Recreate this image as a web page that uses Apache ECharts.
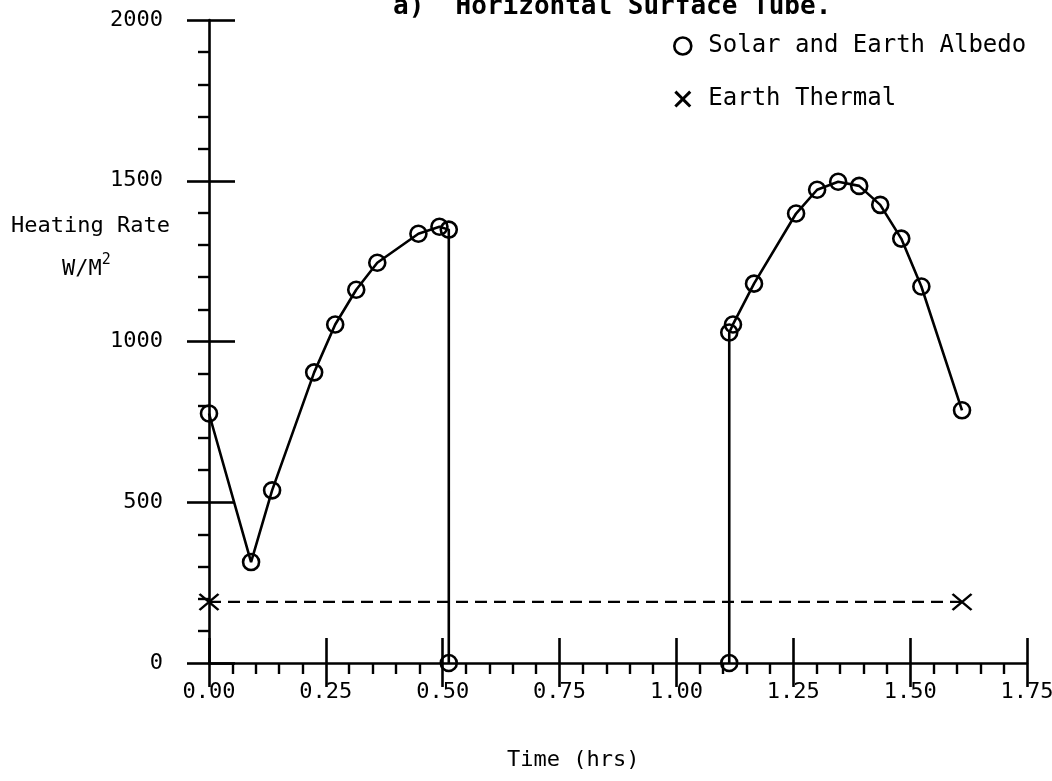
<!DOCTYPE html>
<html>
<head>
<meta charset="utf-8">
<script src="https://cdn.jsdelivr.net/npm/echarts@6/dist/echarts.min.js"></script>
<style>
html,body{margin:0;padding:0;background:#fff;}
#chart{width:1052px;height:781px;}
</style>
</head>
<body>
<div id="chart"></div>
<script>
// ---- data ----
const titleText = "a)  Horizontal Surface Tube.";
const solarName = "Solar and Earth Albedo";
const thermalName = "Earth Thermal";
// first sunlit arc (time in hrs, heating rate W/M^2)
const solarTime1 = [0.000, 0.090, 0.135, 0.225, 0.270, 0.315, 0.360, 0.448, 0.493, 0.513, 0.513];
const solarRate1 = [776, 314, 537, 904, 1053, 1161, 1245, 1335, 1357, 1348, 0];
// second sunlit arc
const solarTime2 = [1.113, 1.113, 1.121, 1.166, 1.256, 1.301, 1.346, 1.391, 1.436, 1.481, 1.524, 1.611];
const solarRate2 = [0, 1028, 1053, 1180, 1398, 1472, 1497, 1484, 1425, 1320, 1171, 786];
// earth thermal
const thermalTime = [0.000, 1.611];
const thermalRate = [190, 190];
// axes
const xMin = 0, xMax = 1.75, xStep = 0.25;
const yMin = 0, yMax = 2000, yStep = 500;

const pairs = (xs, ys) => xs.map((x, i) => [x, ys[i]]);
const FONT = "'DejaVu Sans Mono', 'Liberation Mono', monospace";
const BLACK = '#000';

const chart = echarts.init(document.getElementById('chart'), null, {renderer: 'canvas'});

const solarStyle = {
  type: 'line',
  name: solarName,
  symbol: 'circle',
  symbolSize: 16,
  showSymbol: true,
  lineStyle: {color: BLACK, width: 2.6},
  itemStyle: {color: 'rgba(0,0,0,0)', borderColor: BLACK, borderWidth: 2.6},
  emphasis: {disabled: true},
  z: 3
};

const option = {
  animation: false,
  backgroundColor: '#fff',
  grid: {left: 209, right: 25, top: 20, bottom: 118, containLabel: false, outerBoundsMode: 'none'},
  graphic: [
    {type: 'text', left: 393, top: -6, style: {text: titleText, font: "bold 26px " + FONT, fill: BLACK}},
    {type: 'text', left: 11, top: 215, style: {text: 'Heating Rate', font: "22px " + FONT, fill: BLACK}},
    {type: 'text', left: 62, top: 253, style: {
      text: '{a|W/M}{s|2}', fill: BLACK,
      rich: {a: {font: "22px " + FONT, fill: BLACK, verticalAlign: 'bottom'}, s: {font: "15px " + FONT, fill: BLACK, verticalAlign: 'top', padding: [0,0,12,0]}}
    }},
    {type: 'text', left: 507, top: 749, style: {text: 'Time (hrs)', font: "22px " + FONT, fill: BLACK}}
  ],
  legend: {
    orient: 'vertical',
    left: 673,
    top: 34,
    itemGap: 29,
    itemWidth: 17,
    itemHeight: 17,
    padding: 0,
    selectedMode: false,
    textStyle: {fontFamily: FONT, fontSize: 24, color: BLACK, lineHeight: 24, padding: [0, 0, 0, 12]},
    data: [
      {name: solarName, icon: 'circle', itemStyle: {color: 'rgba(0,0,0,0)', borderColor: BLACK, borderWidth: 2.6}},
      {name: thermalName, icon: 'path://M2,0L8,6L14,0L16,2L10,8L16,14L14,16L8,10L2,16L0,14L6,8L0,2Z', itemStyle: {color: BLACK, borderWidth: 0}}
    ]
  },
  xAxis: [
    {
      type: 'value', min: xMin, max: xMax, interval: xStep, position: 'bottom',
      axisLine: {show: true, lineStyle: {color: BLACK, width: 2.6}},
      axisTick: {show: true, inside: false, length: 24, lineStyle: {color: BLACK, width: 2.6}},
      minorTick: {show: true, splitNumber: 5, length: 11, lineStyle: {color: BLACK, width: 2.4}},
      splitLine: {show: false}, minorSplitLine: {show: false},
      axisLabel: {margin: 18, color: BLACK, fontFamily: FONT, fontSize: 22, formatter: v => v.toFixed(2)}
    },
    {
      type: 'value', min: xMin, max: xMax, interval: xStep, position: 'bottom',
      axisLine: {show: false},
      axisTick: {show: true, inside: true, length: 25, lineStyle: {color: BLACK, width: 2.6}},
      splitLine: {show: false}, axisLabel: {show: false}
    }
  ],
  yAxis: [
    {
      type: 'value', min: yMin, max: yMax, interval: yStep, position: 'left',
      axisLine: {show: true, lineStyle: {color: BLACK, width: 2.6}},
      axisTick: {show: true, inside: false, length: 22, lineStyle: {color: BLACK, width: 2.6}},
      minorTick: {show: true, splitNumber: 5, length: 11, lineStyle: {color: BLACK, width: 2.4}},
      splitLine: {show: false}, minorSplitLine: {show: false},
      axisLabel: {margin: 46, color: BLACK, fontFamily: FONT, fontSize: 22, formatter: v => String(v)}
    },
    {
      type: 'value', min: yMin, max: yMax, interval: yStep, position: 'left', offset: 0,
      axisLine: {show: false},
      axisTick: {show: true, inside: true, length: 26, lineStyle: {color: BLACK, width: 2.6}},
      splitLine: {show: false}, axisLabel: {show: false}
    }
  ],
  series: [
    Object.assign({}, solarStyle, {data: pairs(solarTime1, solarRate1)}),
    Object.assign({}, solarStyle, {data: pairs(solarTime2, solarRate2)}),
    {
      type: 'line',
      name: thermalName,
      data: pairs(thermalTime, thermalRate),
      symbol: 'path://M0,0L19,16M19,0L0,16',
      symbolSize: [19, 16],
      symbolKeepAspect: false,
      lineStyle: {color: BLACK, width: 2.4, type: [12, 7]},
      itemStyle: {color: 'rgba(0,0,0,0)', borderColor: BLACK, borderWidth: 2.4},
      emphasis: {disabled: true},
      z: 2
    }
  ]
};
chart.setOption(option);
</script>
</body>
</html>
